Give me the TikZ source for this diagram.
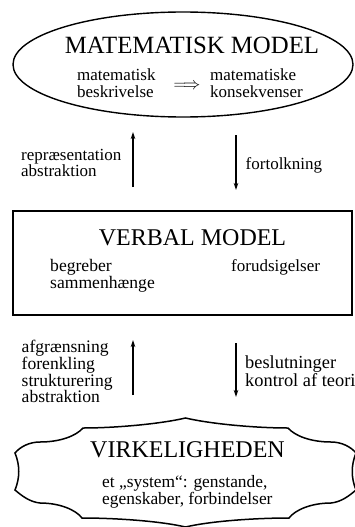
\documentclass[tikz,border=0pt]{standalone}
\usepackage{fontspec}
\setmainfont{Liberation Serif}
\usetikzlibrary{arrows.meta,shapes.geometric}
\begin{document}
\begin{tikzpicture}[x=1pt,y=-1pt,
  outline/.style={line width=1.4pt},
  heading/.style={font=\fontsize{24}{28}\selectfont, inner sep=0pt},
  words/.style={font=\fontsize{17}{16.5}\selectfont, align=left, inner sep=0pt, anchor=base west},
  bigwords/.style={words, font=\fontsize{17.6}{16.6}\selectfont},
  flow/.style={line width=1.2pt, -{Stealth[length=7pt,width=4.5pt]}}]
\useasboundingbox (0,0) rectangle (355,527);
\clip (0,0) rectangle (355,527);

% --- mathematical model (ellipse) ---
% multi-line labels are placed by the baseline of their last line
\node[ellipse, draw, outline, minimum width=340pt, minimum height=105pt, inner sep=0pt] (mat) at (183,64.5) {};
\node[heading, font=\fontsize{24.8}{28}\selectfont] (matT) at (192,45) {MATEMATISK MODEL};
\node[words] (matL) at (77,97) {matematisk\\beskrivelse};
\node[inner sep=0pt, font=\fontsize{16}{16}\selectfont] (impl) at (187,86.5) {$\Longrightarrow$};
\node[words] (matR) at (210,97) {matematiske\\konsekvenser};

% --- arrows between mathematical and verbal model ---
\coordinate (u1s) at (133,187);
\coordinate (u1e) at (133,132);
\coordinate (d1s) at (236,135);
\coordinate (d1e) at (236,190);
\draw[flow] (u1s) -- (u1e);
\draw[flow] (d1s) -- (d1e);
\node[words] (repr) at (21,176.7) {repræsentation\\abstraktion};
\node[words] (fort) at (245.5,169) {fortolkning};

% --- verbal model (box) ---
\node[draw, outline, line width=1.3pt, minimum width=339pt, minimum height=104pt, inner sep=0pt] (verb) at (182.5,263) {};
\node[heading] (verbT) at (192.5,237.5) {VERBAL MODEL};
\node[words, font=\fontsize{17.6}{16.6}\selectfont] (verbL) at (50,288.3) {begreber\\sammenhænge};
\node[words] (verbR) at (231,271.7) {forudsigelser};

% --- arrows between verbal model and reality ---
\coordinate (u2s) at (133,395);
\coordinate (u2e) at (133,340);
\coordinate (d2s) at (236,343);
\coordinate (d2e) at (236,397);
\draw[flow] (u2s) -- (u2e);
\draw[flow] (d2s) -- (d2e);
\node[bigwords] (afgr) at (21.5,402.7) {afgrænsning\\forenkling\\strukturering\\abstraktion};
\node[bigwords, font=\fontsize{18.4}{16.6}\selectfont] (besl) at (245,386.7) {beslutninger\\kontrol af teori};

% --- reality (scroll banner) ---
\draw[outline, line width=1.5pt]
  (185.5,418) .. controls (160,424) and (115,428) .. (83,428)
  .. controls (76,436) and (60,442) .. (40,442)
  .. controls (29,442) and (20,447) .. (15,453)
  .. controls (20,465) and (20,478) .. (15,490)
  .. controls (22,496) and (30,502) .. (40,503)
  .. controls (60,503) and (76,510) .. (82,518)
  .. controls (115,518) and (160,521) .. (185.5,527)
  .. controls (211,521) and (256,518) .. (289,518)
  .. controls (295,510) and (311,503) .. (331,503)
  .. controls (341,502) and (349,496) .. (356,490)
  .. controls (351,478) and (351,465) .. (356,453)
  .. controls (351,447) and (342,442) .. (331,442)
  .. controls (311,442) and (295,436) .. (288,428)
  .. controls (256,428) and (211,424) .. (185.5,418) -- cycle;
\node[heading] (realT) at (187.5,450) {VIRKELIGHEDEN};
\node[bigwords, font=\fontsize{17.4}{15.7}\selectfont] (realB) at (102,504) {et „system“: genstande,\\egenskaber, forbindelser};
\end{tikzpicture}
\end{document}
